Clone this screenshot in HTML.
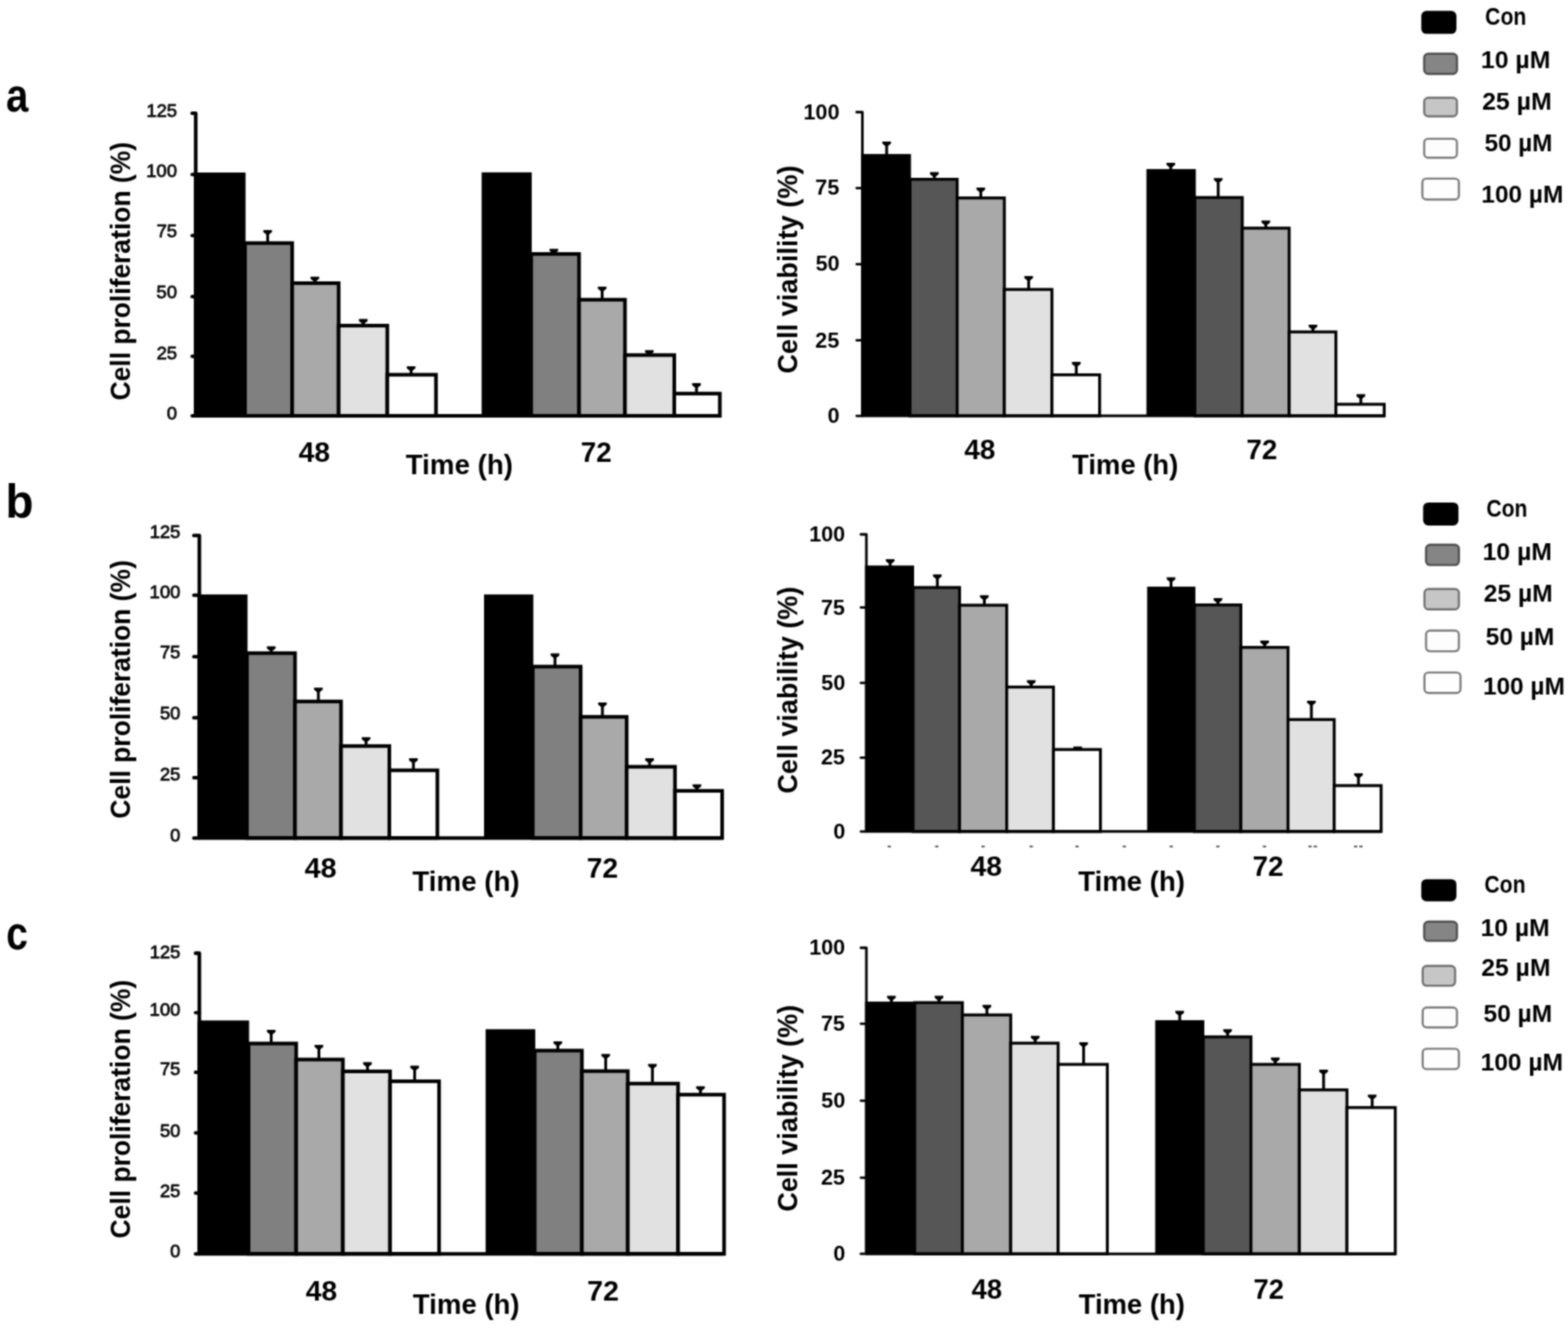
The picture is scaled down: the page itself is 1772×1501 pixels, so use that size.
<!DOCTYPE html>
<html lang="en">
<head>
<meta charset="utf-8">
<title>Cell proliferation and viability</title>
<style>
html,body{margin:0;padding:0;background:#fff;}
body{width:1772px;height:1501px;overflow:hidden;}
svg{display:block;font-family:"Liberation Sans",sans-serif;}
</style>
</head>
<body>
<svg width="1772" height="1501" viewBox="0 0 1772 1501">
<defs>
<filter id="soft" x="0" y="0" width="1772" height="1501" filterUnits="userSpaceOnUse" color-interpolation-filters="sRGB">
<feConvolveMatrix order="5" kernelMatrix="0.0005 0.0050 0.0109 0.0050 0.0005 0.0050 0.0522 0.1141 0.0522 0.0050 0.0109 0.1141 0.2491 0.1141 0.0109 0.0050 0.0522 0.1141 0.0522 0.0050 0.0005 0.0050 0.0109 0.0050 0.0005" divisor="1" edgeMode="duplicate" preserveAlpha="true"/>
</filter>
</defs>
<g filter="url(#soft)">
<rect width="1772" height="1501" fill="#fff"/>
<g id="aL">
<rect x="219.15" y="195" width="58.35" height="275" fill="#000"/>
<rect x="276.9" y="274.75" width="53.3" height="195.25" fill="#808080" stroke="#000" stroke-width="4.1"/>
<rect x="330.2" y="320.05" width="52.5" height="149.95" fill="#a9a9a9" stroke="#000" stroke-width="4.1"/>
<rect x="382.7" y="368.05" width="55" height="101.95" fill="#e1e1e1" stroke="#000" stroke-width="4.1"/>
<rect x="437.7" y="423.55" width="55" height="46.45" fill="#ffffff" stroke="#000" stroke-width="4.1"/>
<rect x="544.3" y="194.8" width="56.6" height="275.2" fill="#000"/>
<rect x="600.3" y="287.05" width="54.1" height="182.95" fill="#808080" stroke="#000" stroke-width="4.1"/>
<rect x="654.4" y="338.75" width="51.9" height="131.25" fill="#a9a9a9" stroke="#000" stroke-width="4.1"/>
<rect x="706.3" y="401.35" width="55.7" height="68.65" fill="#e1e1e1" stroke="#000" stroke-width="4.1"/>
<rect x="762" y="444.85" width="51.5" height="25.15" fill="#ffffff" stroke="#000" stroke-width="4.1"/>
<path d="M297.6 259.9H307.4V262.2L304.1 264.9V274.7H300.9V264.9L297.6 262.2Z" fill="#000"/>
<path d="M350.9 312.7H360.7V315L357.4 317.7V320H354.2V317.7L350.9 315Z" fill="#000"/>
<path d="M405.6 360.6H415.4V362.9L412.1 365.6V368H408.9V365.6L405.6 362.9Z" fill="#000"/>
<path d="M459.7 413.9H469.5V416.2L466.2 418.9V423.5H463V418.9L459.7 416.2Z" fill="#000"/>
<path d="M621 281.2H630.8V283.5L627.5 286.2V287H624.3V286.2L621 283.5Z" fill="#000"/>
<path d="M675.6 323.9H685.4V326.2L682.1 328.9V338.7H678.9V328.9L675.6 326.2Z" fill="#000"/>
<path d="M728.9 395.8H738.7V398.1L735.4 400.8V401.3H732.2V400.8L728.9 398.1Z" fill="#000"/>
<path d="M782.2 433.1H792V435.4L788.7 438.1V444.8H785.5V438.1L782.2 435.4Z" fill="#000"/>
<path d="M217.15 128H221.2V470H813" stroke="#000" stroke-width="4.1" fill="none" stroke-linejoin="round" stroke-linecap="round"/>
<text x="165.4" y="132.1" font-size="20.8" font-weight="normal" fill="#0c0c0c" textLength="34.71" lengthAdjust="spacingAndGlyphs" stroke="#0c0c0c" stroke-width="0.85">125</text>
<path d="M217.15 197.3H221.2" stroke="#000" stroke-width="3.89" stroke-linecap="round"/>
<text x="165.3" y="200.2" font-size="20.8" font-weight="normal" fill="#0c0c0c" textLength="34.71" lengthAdjust="spacingAndGlyphs" stroke="#0c0c0c" stroke-width="0.85">100</text>
<path d="M217.15 266.3H221.2" stroke="#000" stroke-width="3.89" stroke-linecap="round"/>
<text x="176.94" y="268.2" font-size="20.8" font-weight="normal" fill="#0c0c0c" textLength="23.14" lengthAdjust="spacingAndGlyphs" stroke="#0c0c0c" stroke-width="0.85">75</text>
<path d="M217.15 335.3H221.2" stroke="#000" stroke-width="3.89" stroke-linecap="round"/>
<text x="176.84" y="336.9" font-size="20.8" font-weight="normal" fill="#0c0c0c" textLength="23.14" lengthAdjust="spacingAndGlyphs" stroke="#0c0c0c" stroke-width="0.85">50</text>
<path d="M217.15 402.8H221.2" stroke="#000" stroke-width="3.89" stroke-linecap="round"/>
<text x="176.94" y="406.3" font-size="20.8" font-weight="normal" fill="#0c0c0c" textLength="23.14" lengthAdjust="spacingAndGlyphs" stroke="#0c0c0c" stroke-width="0.85">25</text>
<path d="M217.15 470H221.2" stroke="#000" stroke-width="3.89" stroke-linecap="round"/>
<text x="188.49" y="473.5" font-size="20.8" font-weight="normal" fill="#0c0c0c" textLength="11.57" lengthAdjust="spacingAndGlyphs" stroke="#0c0c0c" stroke-width="0.85">0</text>
<text transform="translate(146.7 452.59) rotate(-90)" font-size="31.5" font-weight="bold" fill="#000" textLength="292.04" lengthAdjust="spacingAndGlyphs">Cell proliferation (%)</text>
<text x="337.52" y="521.8" font-size="31.5" font-weight="bold" fill="#000" textLength="35.51" lengthAdjust="spacingAndGlyphs">48</text>
<text x="458.59" y="535.9" font-size="30.5" font-weight="bold" fill="#000" textLength="121.1" lengthAdjust="spacingAndGlyphs">Time (h)</text>
<text x="656.18" y="521.8" font-size="31.5" font-weight="bold" fill="#000" textLength="35.05" lengthAdjust="spacingAndGlyphs">72</text>
</g>
<g id="aR">
<rect x="973.15" y="174.1" width="56.35" height="295.9" fill="#000"/>
<rect x="1028.4" y="202.65" width="53.3" height="267.35" fill="#565656" stroke="#000" stroke-width="3.3"/>
<rect x="1081.7" y="223.75" width="53.3" height="246.25" fill="#a9a9a9" stroke="#000" stroke-width="3.3"/>
<rect x="1135" y="327.15" width="53.8" height="142.85" fill="#e1e1e1" stroke="#000" stroke-width="3.3"/>
<rect x="1188.8" y="423.65" width="53.9" height="46.35" fill="#ffffff" stroke="#000" stroke-width="3.3"/>
<rect x="1295.6" y="191.1" width="55.8" height="278.9" fill="#000"/>
<rect x="1350.3" y="223.25" width="53.6" height="246.75" fill="#565656" stroke="#000" stroke-width="3.3"/>
<rect x="1403.9" y="257.85" width="53" height="212.15" fill="#a9a9a9" stroke="#000" stroke-width="3.3"/>
<rect x="1456.9" y="375.15" width="52.8" height="94.85" fill="#e1e1e1" stroke="#000" stroke-width="3.3"/>
<rect x="1509.7" y="456.95" width="54.6" height="13.05" fill="#ffffff" stroke="#000" stroke-width="3.3"/>
<path d="M997.1 160H1006.9V162.3L1003.6 165V175.6H1000.4V165L997.1 162.3Z" fill="#000"/>
<path d="M1051 194.6H1060.8V196.9L1057.5 199.6V203.5H1054.3V199.6L1051 196.9Z" fill="#000"/>
<path d="M1103.5 211.9H1113.3V214.2L1110 216.9V224.6H1106.8V216.9L1103.5 214.2Z" fill="#000"/>
<path d="M1157.6 311.9H1167.4V314.2L1164.1 316.9V328H1160.9V316.9L1157.6 314.2Z" fill="#000"/>
<path d="M1211.4 409.1H1221.2V411.4L1217.9 414.1V424.5H1214.7V414.1L1211.4 411.4Z" fill="#000"/>
<path d="M1318.2 183.9H1328V186.2L1324.7 188.9V192.6H1321.5V188.9L1318.2 186.2Z" fill="#000"/>
<path d="M1371.8 201.3H1381.6V203.6L1378.3 206.3V224.1H1375.1V206.3L1371.8 203.6Z" fill="#000"/>
<path d="M1425.6 249.2H1435.4V251.5L1432.1 254.2V258.7H1428.9V254.2L1425.6 251.5Z" fill="#000"/>
<path d="M1478.9 367H1488.7V369.3L1485.4 372V376H1482.2V372L1478.9 369.3Z" fill="#000"/>
<path d="M1533 445.6H1542.8V447.9L1539.5 450.6V457.8H1536.3V450.6L1533 447.9Z" fill="#000"/>
<path d="M968.05 126.8H974.6V470H1564" stroke="#000" stroke-width="2.9" fill="none" stroke-linejoin="round" stroke-linecap="round"/>
<text x="908.03" y="134.7" font-size="24.4" font-weight="bold" fill="#000" textLength="40.71" lengthAdjust="spacingAndGlyphs">100</text>
<path d="M968.05 212.5H974.6" stroke="#000" stroke-width="2.75" stroke-linecap="round"/>
<text x="921.33" y="220.4" font-size="24.4" font-weight="bold" fill="#000" textLength="27.14" lengthAdjust="spacingAndGlyphs">75</text>
<path d="M968.05 298.5H974.6" stroke="#000" stroke-width="2.75" stroke-linecap="round"/>
<text x="921.69" y="306.4" font-size="24.4" font-weight="bold" fill="#000" textLength="27.14" lengthAdjust="spacingAndGlyphs">50</text>
<path d="M968.05 384.6H974.6" stroke="#000" stroke-width="2.75" stroke-linecap="round"/>
<text x="921.33" y="392.5" font-size="24.4" font-weight="bold" fill="#000" textLength="27.14" lengthAdjust="spacingAndGlyphs">25</text>
<path d="M968.05 470H974.6" stroke="#000" stroke-width="2.75" stroke-linecap="round"/>
<text x="935.23" y="477.9" font-size="24.4" font-weight="bold" fill="#000" textLength="13.57" lengthAdjust="spacingAndGlyphs">0</text>
<text transform="translate(901.3 422.33) rotate(-90)" font-size="31.5" font-weight="bold" fill="#000" textLength="235.22" lengthAdjust="spacingAndGlyphs">Cell viability (%)</text>
<text x="1089.72" y="519.3" font-size="31.5" font-weight="bold" fill="#000" textLength="35.3" lengthAdjust="spacingAndGlyphs">48</text>
<text x="1211.59" y="535.9" font-size="30.5" font-weight="bold" fill="#000" textLength="120.08" lengthAdjust="spacingAndGlyphs">Time (h)</text>
<text x="1408.58" y="519.3" font-size="31.5" font-weight="bold" fill="#000" textLength="35.05" lengthAdjust="spacingAndGlyphs">72</text>
</g>
<g id="bL">
<rect x="223.25" y="671.9" width="56.45" height="275.3" fill="#000"/>
<rect x="279.1" y="738.25" width="54.3" height="208.95" fill="#808080" stroke="#000" stroke-width="4.1"/>
<rect x="333.4" y="792.85" width="52" height="154.35" fill="#a9a9a9" stroke="#000" stroke-width="4.1"/>
<rect x="385.4" y="843.25" width="54.6" height="103.95" fill="#e1e1e1" stroke="#000" stroke-width="4.1"/>
<rect x="440" y="870.65" width="54.3" height="76.55" fill="#ffffff" stroke="#000" stroke-width="4.1"/>
<rect x="547" y="671.9" width="55.7" height="275.3" fill="#000"/>
<rect x="602.1" y="753.45" width="54.1" height="193.75" fill="#808080" stroke="#000" stroke-width="4.1"/>
<rect x="656.2" y="810.25" width="52" height="136.95" fill="#a9a9a9" stroke="#000" stroke-width="4.1"/>
<rect x="708.2" y="866.65" width="54.6" height="80.55" fill="#e1e1e1" stroke="#000" stroke-width="4.1"/>
<rect x="762.8" y="893.85" width="53.3" height="53.35" fill="#ffffff" stroke="#000" stroke-width="4.1"/>
<path d="M301.6 730.6H311.4V732.9L308.1 735.6V738.2H304.9V735.6L301.6 732.9Z" fill="#000"/>
<path d="M354.9 777.2H364.7V779.5L361.4 782.2V792.8H358.2V782.2L354.9 779.5Z" fill="#000"/>
<path d="M408.8 833.2H418.6V835.5L415.3 838.2V843.2H412.1V838.2L408.8 835.5Z" fill="#000"/>
<path d="M462.3 857.1H472.1V859.4L468.8 862.1V870.6H465.6V862.1L462.3 859.4Z" fill="#000"/>
<path d="M622.3 738.6H632.1V740.9L628.8 743.6V753.4H625.6V743.6L622.3 740.9Z" fill="#000"/>
<path d="M675.9 794H685.7V796.3L682.4 799V810.2H679.2V799L675.9 796.3Z" fill="#000"/>
<path d="M729.2 857.1H739V859.4L735.7 862.1V866.6H732.5V862.1L729.2 859.4Z" fill="#000"/>
<path d="M782.7 886.5H792.5V888.8L789.2 891.5V893.8H786V891.5L782.7 888.8Z" fill="#000"/>
<path d="M219.05 605.3H225.3V947.2H815.4" stroke="#000" stroke-width="4.1" fill="none" stroke-linejoin="round" stroke-linecap="round"/>
<text x="169.2" y="608.2" font-size="20.8" font-weight="normal" fill="#0c0c0c" textLength="34.71" lengthAdjust="spacingAndGlyphs" stroke="#0c0c0c" stroke-width="0.85">125</text>
<path d="M219.05 672.7H225.3" stroke="#000" stroke-width="3.89" stroke-linecap="round"/>
<text x="169.1" y="675.6" font-size="20.8" font-weight="normal" fill="#0c0c0c" textLength="34.71" lengthAdjust="spacingAndGlyphs" stroke="#0c0c0c" stroke-width="0.85">100</text>
<path d="M219.05 742.3H225.3" stroke="#000" stroke-width="3.89" stroke-linecap="round"/>
<text x="180.74" y="744.2" font-size="20.8" font-weight="normal" fill="#0c0c0c" textLength="23.14" lengthAdjust="spacingAndGlyphs" stroke="#0c0c0c" stroke-width="0.85">75</text>
<path d="M219.05 811.3H225.3" stroke="#000" stroke-width="3.89" stroke-linecap="round"/>
<text x="180.64" y="813" font-size="20.8" font-weight="normal" fill="#0c0c0c" textLength="23.14" lengthAdjust="spacingAndGlyphs" stroke="#0c0c0c" stroke-width="0.85">50</text>
<path d="M219.05 879H225.3" stroke="#000" stroke-width="3.89" stroke-linecap="round"/>
<text x="180.74" y="881.9" font-size="20.8" font-weight="normal" fill="#0c0c0c" textLength="23.14" lengthAdjust="spacingAndGlyphs" stroke="#0c0c0c" stroke-width="0.85">25</text>
<path d="M219.05 947.2H225.3" stroke="#000" stroke-width="3.89" stroke-linecap="round"/>
<text x="192.29" y="951.3" font-size="20.8" font-weight="normal" fill="#0c0c0c" textLength="11.57" lengthAdjust="spacingAndGlyphs" stroke="#0c0c0c" stroke-width="0.85">0</text>
<text transform="translate(146.7 925.3) rotate(-90)" font-size="31.5" font-weight="bold" fill="#000" textLength="292.14" lengthAdjust="spacingAndGlyphs">Cell proliferation (%)</text>
<text x="344.21" y="991.8" font-size="31.5" font-weight="bold" fill="#000" textLength="36.35" lengthAdjust="spacingAndGlyphs">48</text>
<text x="466.09" y="1006.6" font-size="30.5" font-weight="bold" fill="#000" textLength="121.1" lengthAdjust="spacingAndGlyphs">Time (h)</text>
<text x="663.06" y="991.8" font-size="31.5" font-weight="bold" fill="#000" textLength="35.59" lengthAdjust="spacingAndGlyphs">72</text>
</g>
<g id="bR">
<rect x="977.65" y="639.2" width="55.35" height="300.6" fill="#000"/>
<rect x="1031.9" y="664.05" width="52.5" height="275.75" fill="#565656" stroke="#000" stroke-width="3.3"/>
<rect x="1084.4" y="684.05" width="53.3" height="255.75" fill="#a9a9a9" stroke="#000" stroke-width="3.3"/>
<rect x="1137.7" y="776.55" width="52.8" height="163.25" fill="#e1e1e1" stroke="#000" stroke-width="3.3"/>
<rect x="1190.5" y="847.15" width="53.1" height="92.65" fill="#ffffff" stroke="#000" stroke-width="3.3"/>
<rect x="1296.4" y="663.1" width="54.5" height="276.7" fill="#000"/>
<rect x="1349.8" y="683.75" width="52.5" height="256.05" fill="#565656" stroke="#000" stroke-width="3.3"/>
<rect x="1402.3" y="731.75" width="53.3" height="208.05" fill="#a9a9a9" stroke="#000" stroke-width="3.3"/>
<rect x="1455.6" y="813.25" width="52.2" height="126.55" fill="#e1e1e1" stroke="#000" stroke-width="3.3"/>
<rect x="1507.8" y="887.95" width="53" height="51.85" fill="#ffffff" stroke="#000" stroke-width="3.3"/>
<path d="M1001.1 632H1010.9V634.3L1007.6 637V640.7H1004.4V637L1001.1 634.3Z" fill="#000"/>
<path d="M1054.4 649.3H1064.2V651.6L1060.9 654.3V664.9H1057.7V654.3L1054.4 651.6Z" fill="#000"/>
<path d="M1107.5 672.7H1117.3V675L1114 677.7V684.9H1110.8V677.7L1107.5 675Z" fill="#000"/>
<path d="M1160.5 768.7H1170.3V771L1167 773.7V777.4H1163.8V773.7L1160.5 771Z" fill="#000"/>
<path d="M1213 843.8H1222.8V846.1L1219.5 848V848H1216.3V848L1213 846.1Z" fill="#000"/>
<path d="M1318.5 652.5H1328.3V654.8L1325 657.5V664.6H1321.8V657.5L1318.5 654.8Z" fill="#000"/>
<path d="M1371.5 675.9H1381.3V678.2L1378 680.9V684.6H1374.8V680.9L1371.5 678.2Z" fill="#000"/>
<path d="M1424.3 723.9H1434.1V726.2L1430.8 728.9V732.6H1427.6V728.9L1424.3 726.2Z" fill="#000"/>
<path d="M1477.1 791.9H1486.9V794.2L1483.6 796.9V814.1H1480.4V796.9L1477.1 794.2Z" fill="#000"/>
<path d="M1530.3 873.9H1540.1V876.2L1536.8 878.9V888.8H1533.6V878.9L1530.3 876.2Z" fill="#000"/>
<path d="M972.85 604H979.1V939.8H1560.6" stroke="#000" stroke-width="2.9" fill="none" stroke-linejoin="round" stroke-linecap="round"/>
<text x="914.43" y="611.9" font-size="24.4" font-weight="bold" fill="#000" textLength="40.71" lengthAdjust="spacingAndGlyphs">100</text>
<path d="M972.85 686.6H979.1" stroke="#000" stroke-width="2.75" stroke-linecap="round"/>
<text x="927.73" y="694.5" font-size="24.4" font-weight="bold" fill="#000" textLength="27.14" lengthAdjust="spacingAndGlyphs">75</text>
<path d="M972.85 771.9H979.1" stroke="#000" stroke-width="2.75" stroke-linecap="round"/>
<text x="928.09" y="779.8" font-size="24.4" font-weight="bold" fill="#000" textLength="27.14" lengthAdjust="spacingAndGlyphs">50</text>
<path d="M972.85 856.4H979.1" stroke="#000" stroke-width="2.75" stroke-linecap="round"/>
<text x="927.73" y="864.3" font-size="24.4" font-weight="bold" fill="#000" textLength="27.14" lengthAdjust="spacingAndGlyphs">25</text>
<path d="M972.85 939.8H979.1" stroke="#000" stroke-width="2.75" stroke-linecap="round"/>
<text x="941.63" y="947.7" font-size="24.4" font-weight="bold" fill="#000" textLength="13.57" lengthAdjust="spacingAndGlyphs">0</text>
<text transform="translate(901.3 897.02) rotate(-90)" font-size="31.5" font-weight="bold" fill="#000" textLength="233.9" lengthAdjust="spacingAndGlyphs">Cell viability (%)</text>
<text x="1096.72" y="990" font-size="31.5" font-weight="bold" fill="#000" textLength="35.72" lengthAdjust="spacingAndGlyphs">48</text>
<text x="1218.59" y="1006.6" font-size="30.5" font-weight="bold" fill="#000" textLength="120.49" lengthAdjust="spacingAndGlyphs">Time (h)</text>
<text x="1415.58" y="990" font-size="31.5" font-weight="bold" fill="#000" textLength="35.05" lengthAdjust="spacingAndGlyphs">72</text>
<rect x="1003" y="955.8" width="4" height="2" rx="0.8" fill="#555"/>
<rect x="1056.6" y="955.8" width="4" height="2" rx="0.8" fill="#555"/>
<rect x="1109" y="955.8" width="4" height="2" rx="0.8" fill="#555"/>
<rect x="1163.4" y="955.8" width="4" height="2" rx="0.8" fill="#555"/>
<rect x="1215.2" y="955.8" width="4" height="2" rx="0.8" fill="#555"/>
<rect x="1268.6" y="955.8" width="4" height="2" rx="0.8" fill="#555"/>
<rect x="1321.6" y="955.8" width="4" height="2" rx="0.8" fill="#555"/>
<rect x="1374.3" y="955.8" width="4" height="2" rx="0.8" fill="#555"/>
<rect x="1427" y="955.8" width="4" height="2" rx="0.8" fill="#555"/>
<rect x="1478.5" y="955.8" width="4" height="2" rx="0.8" fill="#555"/>
<rect x="1484.5" y="955.8" width="4" height="2" rx="0.8" fill="#555"/>
<rect x="1530" y="955.8" width="4" height="2" rx="0.8" fill="#555"/>
<rect x="1536" y="955.8" width="4" height="2" rx="0.8" fill="#555"/>
</g>
<g id="cL">
<rect x="223.25" y="1153.4" width="58.25" height="263.8" fill="#000"/>
<rect x="280.9" y="1179.45" width="53.8" height="237.75" fill="#808080" stroke="#000" stroke-width="4.1"/>
<rect x="334.7" y="1197.55" width="52.8" height="219.65" fill="#a9a9a9" stroke="#000" stroke-width="4.1"/>
<rect x="387.5" y="1210.95" width="53.3" height="206.25" fill="#e1e1e1" stroke="#000" stroke-width="4.1"/>
<rect x="440.8" y="1222.15" width="55.4" height="195.05" fill="#ffffff" stroke="#000" stroke-width="4.1"/>
<rect x="548.8" y="1163.3" width="56.1" height="253.9" fill="#000"/>
<rect x="604.3" y="1187.45" width="53.3" height="229.75" fill="#808080" stroke="#000" stroke-width="4.1"/>
<rect x="657.6" y="1210.65" width="51.9" height="206.55" fill="#a9a9a9" stroke="#000" stroke-width="4.1"/>
<rect x="709.5" y="1224.75" width="56.8" height="192.45" fill="#e1e1e1" stroke="#000" stroke-width="4.1"/>
<rect x="766.3" y="1237.25" width="52" height="179.95" fill="#ffffff" stroke="#000" stroke-width="4.1"/>
<path d="M301.6 1164H311.4V1166.3L308.1 1169V1179.4H304.9V1169L301.6 1166.3Z" fill="#000"/>
<path d="M355.5 1181H365.3V1183.3L362 1186V1197.5H358.8V1186L355.5 1183.3Z" fill="#000"/>
<path d="M410.4 1200.6H420.2V1202.9L416.9 1205.6V1210.9H413.7V1205.6L410.4 1202.9Z" fill="#000"/>
<path d="M463.7 1204.6H473.5V1206.9L470.2 1209.6V1222.1H467V1209.6L463.7 1206.9Z" fill="#000"/>
<path d="M625.5 1177H635.3V1179.3L632 1182V1187.4H628.8V1182L625.5 1179.3Z" fill="#000"/>
<path d="M679.6 1191.2H689.4V1193.5L686.1 1196.2V1210.6H682.9V1196.2L679.6 1193.5Z" fill="#000"/>
<path d="M732.4 1202.4H742.2V1204.7L738.9 1207.4V1224.7H735.7V1207.4L732.4 1204.7Z" fill="#000"/>
<path d="M786.7 1227.7H796.5V1230L793.2 1232.7V1237.2H790V1232.7L786.7 1230Z" fill="#000"/>
<path d="M220.95 1077.4H225.3V1417.2H817.6" stroke="#000" stroke-width="4.1" fill="none" stroke-linejoin="round" stroke-linecap="round"/>
<text x="169.2" y="1082.6" font-size="20.8" font-weight="normal" fill="#0c0c0c" textLength="34.71" lengthAdjust="spacingAndGlyphs" stroke="#0c0c0c" stroke-width="0.85">125</text>
<path d="M220.95 1144.6H225.3" stroke="#000" stroke-width="3.89" stroke-linecap="round"/>
<text x="169.1" y="1147.5" font-size="20.8" font-weight="normal" fill="#0c0c0c" textLength="34.71" lengthAdjust="spacingAndGlyphs" stroke="#0c0c0c" stroke-width="0.85">100</text>
<path d="M220.95 1212H225.3" stroke="#000" stroke-width="3.89" stroke-linecap="round"/>
<text x="180.74" y="1215.4" font-size="20.8" font-weight="normal" fill="#0c0c0c" textLength="23.14" lengthAdjust="spacingAndGlyphs" stroke="#0c0c0c" stroke-width="0.85">75</text>
<path d="M220.95 1280.5H225.3" stroke="#000" stroke-width="3.89" stroke-linecap="round"/>
<text x="180.64" y="1284.9" font-size="20.8" font-weight="normal" fill="#0c0c0c" textLength="23.14" lengthAdjust="spacingAndGlyphs" stroke="#0c0c0c" stroke-width="0.85">50</text>
<path d="M220.95 1348.5H225.3" stroke="#000" stroke-width="3.89" stroke-linecap="round"/>
<text x="180.74" y="1352.9" font-size="20.8" font-weight="normal" fill="#0c0c0c" textLength="23.14" lengthAdjust="spacingAndGlyphs" stroke="#0c0c0c" stroke-width="0.85">25</text>
<path d="M220.95 1417.2H225.3" stroke="#000" stroke-width="3.89" stroke-linecap="round"/>
<text x="192.29" y="1421.3" font-size="20.8" font-weight="normal" fill="#0c0c0c" textLength="11.57" lengthAdjust="spacingAndGlyphs" stroke="#0c0c0c" stroke-width="0.85">0</text>
<text transform="translate(146.7 1399.7) rotate(-90)" font-size="31.5" font-weight="bold" fill="#000" textLength="292.14" lengthAdjust="spacingAndGlyphs">Cell proliferation (%)</text>
<text x="345.42" y="1470.2" font-size="31.5" font-weight="bold" fill="#000" textLength="35.62" lengthAdjust="spacingAndGlyphs">48</text>
<text x="466.59" y="1485.1" font-size="30.5" font-weight="bold" fill="#000" textLength="120.59" lengthAdjust="spacingAndGlyphs">Time (h)</text>
<text x="663.55" y="1470.2" font-size="31.5" font-weight="bold" fill="#000" textLength="35.92" lengthAdjust="spacingAndGlyphs">72</text>
</g>
<g id="cR">
<rect x="977.65" y="1132.1" width="57.15" height="285.1" fill="#000"/>
<rect x="1033.7" y="1133.25" width="53.9" height="283.95" fill="#565656" stroke="#000" stroke-width="3.3"/>
<rect x="1087.6" y="1147.15" width="54.6" height="270.05" fill="#a9a9a9" stroke="#000" stroke-width="3.3"/>
<rect x="1142.2" y="1179.05" width="53.6" height="238.15" fill="#e1e1e1" stroke="#000" stroke-width="3.3"/>
<rect x="1195.8" y="1203.05" width="55.6" height="214.15" fill="#ffffff" stroke="#000" stroke-width="3.3"/>
<rect x="1305.5" y="1153.1" width="55.5" height="264.1" fill="#000"/>
<rect x="1359.9" y="1171.95" width="53.8" height="245.25" fill="#565656" stroke="#000" stroke-width="3.3"/>
<rect x="1413.7" y="1203.05" width="54.7" height="214.15" fill="#a9a9a9" stroke="#000" stroke-width="3.3"/>
<rect x="1468.4" y="1231.85" width="53.8" height="185.35" fill="#e1e1e1" stroke="#000" stroke-width="3.3"/>
<rect x="1522.2" y="1251.85" width="54.6" height="165.35" fill="#ffffff" stroke="#000" stroke-width="3.3"/>
<path d="M1002.5 1125.4H1012.3V1127.7L1009 1130.4V1133.6H1005.8V1130.4L1002.5 1127.7Z" fill="#000"/>
<path d="M1056.3 1125.4H1066.1V1127.7L1062.8 1130.4V1134.1H1059.6V1130.4L1056.3 1127.7Z" fill="#000"/>
<path d="M1110.4 1135.8H1120.2V1138.1L1116.9 1140.8V1148H1113.7V1140.8L1110.4 1138.1Z" fill="#000"/>
<path d="M1165 1170.7H1174.8V1173L1171.5 1175.7V1179.9H1168.3V1175.7L1165 1173Z" fill="#000"/>
<path d="M1219.7 1177.9H1229.5V1180.2L1226.2 1182.9V1203.9H1223V1182.9L1219.7 1180.2Z" fill="#000"/>
<path d="M1328.3 1142.5H1338.1V1144.8L1334.8 1147.5V1154.6H1331.6V1147.5L1328.3 1144.8Z" fill="#000"/>
<path d="M1382.4 1163.3H1392.2V1165.6L1388.9 1168.3V1172.8H1385.7V1168.3L1382.4 1165.6Z" fill="#000"/>
<path d="M1436.3 1195.2H1446.1V1197.5L1442.8 1200.2V1203.9H1439.6V1200.2L1436.3 1197.5Z" fill="#000"/>
<path d="M1490.9 1209.1H1500.7V1211.4L1497.4 1214.1V1232.7H1494.2V1214.1L1490.9 1211.4Z" fill="#000"/>
<path d="M1545.8 1237.3H1555.6V1239.6L1552.3 1242.3V1252.7H1549.1V1242.3L1545.8 1239.6Z" fill="#000"/>
<path d="M972.85 1071.3H979.1V1417.2H1576.6" stroke="#000" stroke-width="2.9" fill="none" stroke-linejoin="round" stroke-linecap="round"/>
<text x="914.43" y="1079.2" font-size="24.4" font-weight="bold" fill="#000" textLength="40.71" lengthAdjust="spacingAndGlyphs">100</text>
<path d="M972.85 1157.1H979.1" stroke="#000" stroke-width="2.75" stroke-linecap="round"/>
<text x="927.73" y="1165" font-size="24.4" font-weight="bold" fill="#000" textLength="27.14" lengthAdjust="spacingAndGlyphs">75</text>
<path d="M972.85 1244H979.1" stroke="#000" stroke-width="2.75" stroke-linecap="round"/>
<text x="928.09" y="1251.9" font-size="24.4" font-weight="bold" fill="#000" textLength="27.14" lengthAdjust="spacingAndGlyphs">50</text>
<path d="M972.85 1331.1H979.1" stroke="#000" stroke-width="2.75" stroke-linecap="round"/>
<text x="927.73" y="1339" font-size="24.4" font-weight="bold" fill="#000" textLength="27.14" lengthAdjust="spacingAndGlyphs">25</text>
<path d="M972.85 1417.2H979.1" stroke="#000" stroke-width="2.75" stroke-linecap="round"/>
<text x="941.63" y="1425.1" font-size="24.4" font-weight="bold" fill="#000" textLength="13.57" lengthAdjust="spacingAndGlyphs">0</text>
<text transform="translate(901.3 1369.62) rotate(-90)" font-size="31.5" font-weight="bold" fill="#000" textLength="233.9" lengthAdjust="spacingAndGlyphs">Cell viability (%)</text>
<text x="1097.94" y="1468.2" font-size="31.5" font-weight="bold" fill="#000" textLength="34.47" lengthAdjust="spacingAndGlyphs">48</text>
<text x="1219.09" y="1485.1" font-size="30.5" font-weight="bold" fill="#000" textLength="119.98" lengthAdjust="spacingAndGlyphs">Time (h)</text>
<text x="1416.6" y="1468.2" font-size="31.5" font-weight="bold" fill="#000" textLength="34.51" lengthAdjust="spacingAndGlyphs">72</text>
</g>
<g id="legend">
<rect x="1607.4" y="13.5" width="37.3" height="23.6" rx="4.5" fill="#000" stroke="#000" stroke-width="2.4"/>
<rect x="1609.5" y="60.8" width="37" height="22.7" rx="4.5" fill="#858585" stroke="#4c4c4c" stroke-width="2.4"/>
<rect x="1609.5" y="110.5" width="37" height="21" rx="4.5" fill="#c6c6c6" stroke="#707070" stroke-width="2.4"/>
<rect x="1609.5" y="156.9" width="37" height="21.4" rx="4.5" fill="#fdfdfd" stroke="#7c7c7c" stroke-width="2.4"/>
<rect x="1607.4" y="201.9" width="41.3" height="23.6" rx="4.5" fill="#fefefe" stroke="#7c7c7c" stroke-width="2.4"/>
<text x="1678.34" y="27.7" font-size="26.8" font-weight="bold" fill="#000" textLength="46.59" lengthAdjust="spacingAndGlyphs">Con</text>
<text x="1673.58" y="76.7" font-size="26.8" font-weight="bold" fill="#000" textLength="78.57" lengthAdjust="spacingAndGlyphs">10 µM</text>
<text x="1674.92" y="124" font-size="26.8" font-weight="bold" fill="#000" textLength="78.63" lengthAdjust="spacingAndGlyphs">25 µM</text>
<text x="1677.68" y="170.8" font-size="26.8" font-weight="bold" fill="#000" textLength="76.72" lengthAdjust="spacingAndGlyphs">50 µM</text>
<text x="1674.11" y="228.8" font-size="26.8" font-weight="bold" fill="#000" textLength="92.6" lengthAdjust="spacingAndGlyphs">100 µM</text>
<rect x="1609.5" y="569.1" width="37.5" height="23.6" rx="4.5" fill="#000" stroke="#000" stroke-width="2.4"/>
<rect x="1611.6" y="615.8" width="37.1" height="22.8" rx="4.5" fill="#858585" stroke="#4c4c4c" stroke-width="2.4"/>
<rect x="1609.8" y="665.7" width="38.9" height="23.1" rx="4.5" fill="#c6c6c6" stroke="#707070" stroke-width="2.4"/>
<rect x="1611.6" y="712.8" width="37.1" height="23.3" rx="4.5" fill="#fdfdfd" stroke="#7c7c7c" stroke-width="2.4"/>
<rect x="1609.8" y="760.1" width="40.7" height="23.1" rx="4.5" fill="#fefefe" stroke="#7c7c7c" stroke-width="2.4"/>
<text x="1679.74" y="583.5" font-size="26.8" font-weight="bold" fill="#000" textLength="46.48" lengthAdjust="spacingAndGlyphs">Con</text>
<text x="1675.48" y="632.8" font-size="26.8" font-weight="bold" fill="#000" textLength="78.47" lengthAdjust="spacingAndGlyphs">10 µM</text>
<text x="1676.73" y="679.9" font-size="26.8" font-weight="bold" fill="#000" textLength="77.9" lengthAdjust="spacingAndGlyphs">25 µM</text>
<text x="1679.07" y="729.3" font-size="26.8" font-weight="bold" fill="#000" textLength="77.45" lengthAdjust="spacingAndGlyphs">50 µM</text>
<text x="1675.91" y="784.7" font-size="26.8" font-weight="bold" fill="#000" textLength="92.6" lengthAdjust="spacingAndGlyphs">100 µM</text>
<rect x="1607.4" y="994.9" width="37.3" height="22.6" rx="4.5" fill="#000" stroke="#000" stroke-width="2.4"/>
<rect x="1609.5" y="1041.7" width="37" height="21.7" rx="4.5" fill="#858585" stroke="#4c4c4c" stroke-width="2.4"/>
<rect x="1607.8" y="1091.7" width="36.6" height="22.4" rx="4.5" fill="#c6c6c6" stroke="#707070" stroke-width="2.4"/>
<rect x="1607.8" y="1138.7" width="38.7" height="22.6" rx="4.5" fill="#fdfdfd" stroke="#7c7c7c" stroke-width="2.4"/>
<rect x="1607.8" y="1185.4" width="40.9" height="23" rx="4.5" fill="#fefefe" stroke="#7c7c7c" stroke-width="2.4"/>
<text x="1677.54" y="1009" font-size="26.8" font-weight="bold" fill="#000" textLength="46.48" lengthAdjust="spacingAndGlyphs">Con</text>
<text x="1673.19" y="1058.3" font-size="26.8" font-weight="bold" fill="#000" textLength="78.15" lengthAdjust="spacingAndGlyphs">10 µM</text>
<text x="1674.02" y="1103" font-size="26.8" font-weight="bold" fill="#000" textLength="78.11" lengthAdjust="spacingAndGlyphs">25 µM</text>
<text x="1676.47" y="1154.6" font-size="26.8" font-weight="bold" fill="#000" textLength="77.76" lengthAdjust="spacingAndGlyphs">50 µM</text>
<text x="1673.19" y="1210.4" font-size="26.8" font-weight="bold" fill="#000" textLength="93.22" lengthAdjust="spacingAndGlyphs">100 µM</text>
</g>
<g id="panels">
<text x="6.84" y="126.1" font-size="53.7" font-weight="bold" fill="#000" textLength="25.29" lengthAdjust="spacingAndGlyphs">a</text>
<text x="6.34" y="585" font-size="53.7" font-weight="bold" fill="#000" textLength="31.57" lengthAdjust="spacingAndGlyphs">b</text>
<text x="7.04" y="1072.6" font-size="53.7" font-weight="bold" fill="#000" textLength="24.54" lengthAdjust="spacingAndGlyphs">c</text>
</g>
</g>
</svg>
</body>
</html>
